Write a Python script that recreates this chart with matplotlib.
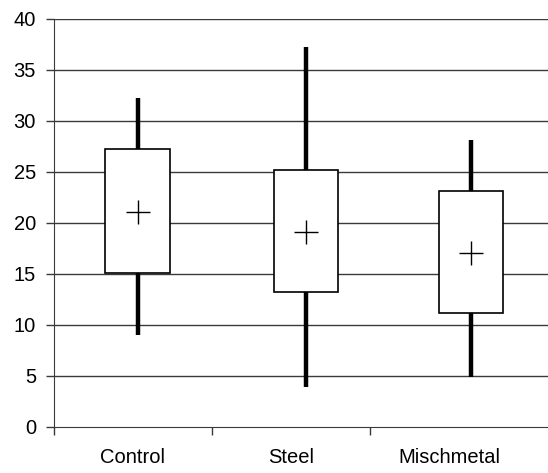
import matplotlib
matplotlib.use('Agg')
from matplotlib import pyplot as plt
import numpy as np

# data
groups = ['Control', 'Steel', 'Mischmetal']
whisker_low = [9.0, 3.9, 4.9]
box_low = [15.1, 13.2, 11.2]
mean_val = [21.1, 19.1, 17.1]
box_high = [27.2, 25.2, 23.1]
whisker_high = [32.2, 37.2, 28.1]

# boxes sit a little right of the category label centres, as in the original
box_pos = [0.53, 1.595, 2.64]
label_pos = [0.5, 1.5, 2.5]

plt.rcParams['font.family'] = ['Liberation Sans', 'DejaVu Sans']

fig = plt.figure(figsize=(5.48, 4.73), dpi=100)
ax = fig.add_axes([0.0985, 0.0973, 0.9015, 0.8627])

# gridlines
for yv in range(5, 45, 5):
    ax.axhline(yv, color='#3a3a3a', lw=1.0, zorder=1)

# whiskers
ax.vlines(box_pos, whisker_low, whisker_high, color='black', lw=3.2, zorder=2)

# boxes
heights = np.array(box_high) - np.array(box_low)
ax.bar(box_pos, heights, bottom=box_low, width=0.41, color='white',
       edgecolor='black', linewidth=1.2, zorder=3)

# means
ax.plot(box_pos, mean_val, linestyle='none', marker='+', markersize=17,
        markeredgewidth=1.0, color='black', zorder=4)

ax.set_ylim(0, 40)
ax.set_xlim(0, 3.127)
ax.set_yticks(range(0, 45, 5))
ax.set_xticks(label_pos)
ax.set_xticklabels(groups)
ax.set_xticks([0, 1, 2], minor=True)
ax.tick_params(axis='x', which='major', length=0, pad=15, labelsize=14.5)
ax.tick_params(axis='x', which='minor', length=6, width=1, direction='out', color='#3a3a3a')
ax.tick_params(axis='y', length=6, width=1, direction='out', color='#3a3a3a', labelsize=14.5, pad=7)

for side in ['top', 'right']:
    ax.spines[side].set_visible(False)
ax.spines['left'].set_color('#3a3a3a')
ax.spines['bottom'].set_color('#3a3a3a')

fig.savefig('out.png', dpi=100)
